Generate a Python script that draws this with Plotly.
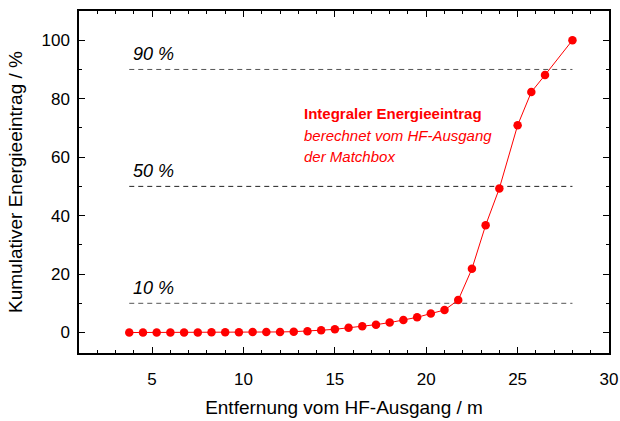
import plotly.graph_objects as go

distance_m = [3.75, 4.5, 5.25, 6.0, 6.75, 7.5, 8.25, 9.0, 9.75, 10.5, 11.25, 12.0,
              12.75, 13.5, 14.25, 15.0, 15.75, 16.5, 17.25, 18.0, 18.75, 19.5, 20.25,
              21.0, 21.75, 22.5, 23.25, 24.0, 25.0, 25.75, 26.5, 28.0]
energy_pct = [0.0, 0.0, 0.0, 0.05, 0.05, 0.05, 0.1, 0.1, 0.1, 0.15, 0.2, 0.2,
              0.3, 0.45, 0.8, 1.1, 1.6, 2.15, 2.7, 3.4, 4.3, 5.2, 6.5,
              7.7, 11.1, 21.8, 36.7, 49.3, 70.9, 82.3, 88.1, 100.0]
ref_levels = [10, 50, 90]
ref_labels = ["10 %", "50 %", "90 %"]
ref_x = [3.75, 28.0]
note_lines = ["<b>Integraler Energieeintrag</b>",
              "<i>berechnet vom HF-Ausgang</i>",
              "<i>der Matchbox</i>"]

FONT = "Liberation Sans, Arial, sans-serif"

fig = go.Figure()

for lvl, col in zip(ref_levels, ["#555555", "#222222", "#555555"]):
    fig.add_trace(go.Scatter(x=ref_x, y=[lvl, lvl], mode="lines",
                             line=dict(color=col, width=1, dash="5px,4px"),
                             hoverinfo="skip", showlegend=False))

fig.add_trace(go.Scatter(x=distance_m, y=energy_pct, mode="lines+markers",
                         line=dict(color="#ff0000", width=1),
                         marker=dict(color="#ff0000", size=8.5),
                         showlegend=False))

for lvl, lab in zip(ref_levels, ref_labels):
    fig.add_annotation(x=ref_x[0], y=lvl, text="<i>" + lab + "</i>", showarrow=False,
                       xanchor="left", yanchor="bottom", yshift=3, xshift=2,
                       font=dict(family=FONT, size=18, color="black"))

for i, line in enumerate(note_lines):
    fig.add_annotation(x=13.2, y=74.8, xref="x", yref="y", text=line,
                       showarrow=False, xanchor="left", yanchor="middle",
                       yshift=-21.5 * i,
                       font=dict(family=FONT, size=15, color="#ff0000"))

axis_common = dict(showline=True, linecolor="black", linewidth=1.5, mirror="allticks",
                   ticks="inside", ticklen=6, tickwidth=1, tickcolor="black",
                   showgrid=False, zeroline=False, automargin=False,
                   tickfont=dict(family=FONT, size=17, color="black"))

fig.update_xaxes(range=[1, 30], dtick=5, tick0=0, ticklabelstandoff=10,
                 minor=dict(dtick=1, ticks="inside", ticklen=3, tickcolor="black"),
                 title=dict(text="Entfernung vom HF-Ausgang / m", standoff=13,
                            font=dict(family=FONT, size=19, color="black")),
                 **axis_common)
fig.update_yaxes(range=[-7, 110], dtick=20, tick0=0, ticklabelstandoff=4,
                 minor=dict(dtick=10, ticks="inside", ticklen=3, tickcolor="black"),
                 title=dict(text="Kumulativer Energieeintrag / %", standoff=14,
                            font=dict(family=FONT, size=19, color="black")),
                 **axis_common)

fig.update_layout(width=620, height=421, margin=dict(l=79, r=11, t=11, b=68),
                  plot_bgcolor="white", paper_bgcolor="white")

fig.write_html("out.html", config={"displayModeBar": False},
               post_script="document.body.style.margin='0';document.body.style.overflow='hidden';")
